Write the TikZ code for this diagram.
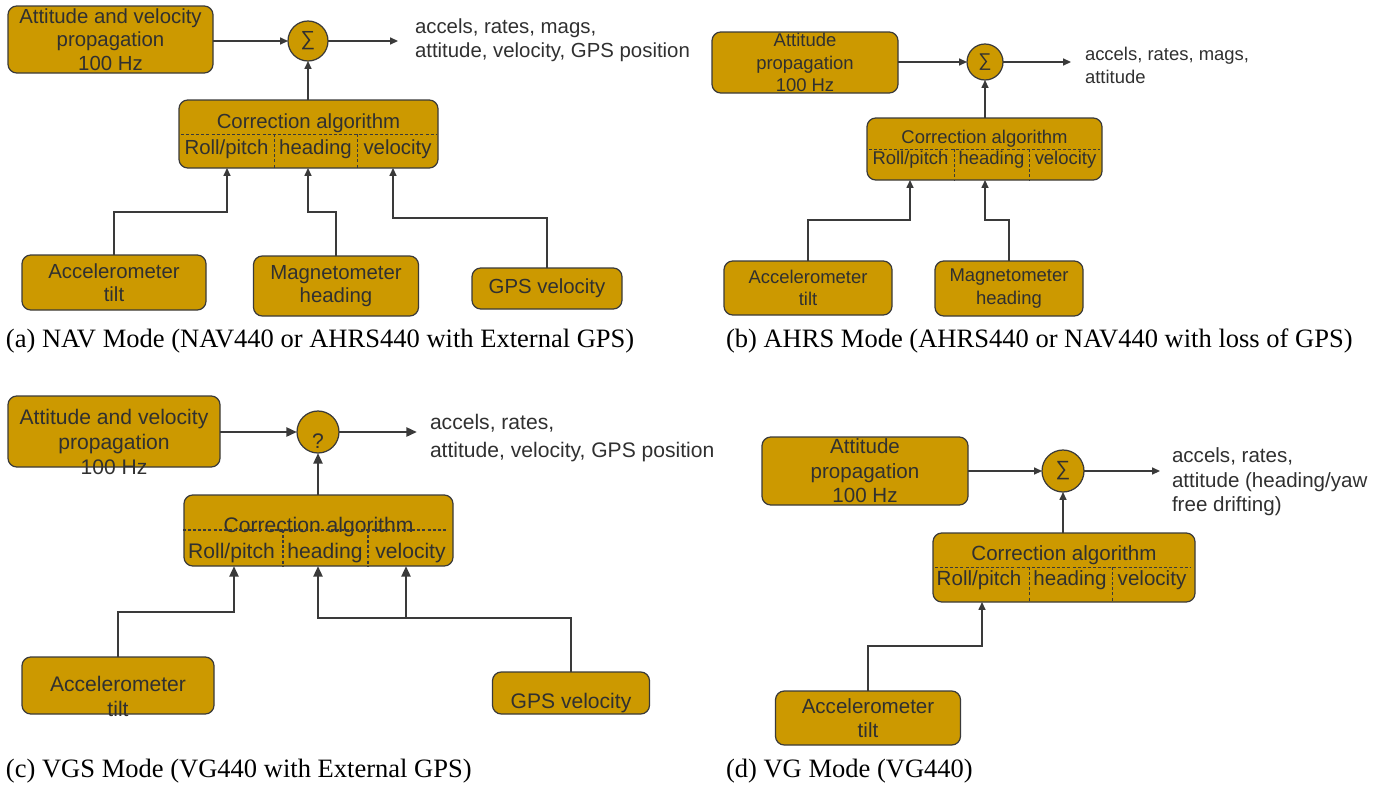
\documentclass[tikz,border=0pt]{standalone}
\usepackage{fontspec}
\setmainfont{Liberation Serif}
\setsansfont{Liberation Sans}
\usetikzlibrary{arrows.meta,positioning}
\definecolor{gold}{HTML}{CC9900}
\definecolor{edge}{HTML}{3A3A3A}
\definecolor{ink}{HTML}{303030}
\def\px{0.02cm}
\newcommand\fnA{\sffamily\fontsize{11.6}{13.4}\selectfont}
\newcommand\fnB{\sffamily\fontsize{10.5}{12.8}\selectfont}
\newcommand\fnC{\sffamily\fontsize{12}{14.2}\selectfont}
\newcommand\fnCo{\sffamily\fontsize{12}{16}\selectfont}
\newcommand\fnD{\sffamily\fontsize{11.7}{14}\selectfont}
\newcommand\fnCap{\rmfamily\fontsize{15.1}{18}\selectfont}
\tikzset{
  every node/.style = {inner sep=0, outer sep=0, text=ink},
  box/.style = {rectangle, rounded corners=5pt, draw=edge, fill=gold, line width=0.7pt, align=center},
  sum/.style = {circle, draw=edge, fill=gold, line width=0.7pt},
  arrow/.style = {-{Triangle[length=4.5pt, width=4pt]}, draw=edge, line width=0.75pt},
  heavy/.style = {-{Triangle[length=6pt, width=5pt]}, draw=edge, line width=1.5pt},
  divider/.style = {draw=edge, line width=0.5pt, dash pattern=on 1.7pt off 1.2pt},
  outtext/.style = {anchor=west, align=left},
  caption/.style = {anchor=west, font=\fnCap, text=black}
}
\begin{document}
\begin{tikzpicture}[x=0.02cm, y=-0.02cm]
  \useasboundingbox (0,0) rectangle (1385,788);

  % (a) NAV mode
  \node[box, font=\fnA, minimum width=205*\px, minimum height=67*\px] (attA) at (110.5,39.5) {Attitude and velocity\\propagation\\100 Hz};
  \node[sum, font=\fnA, minimum size=40*\px] (sumA) at (308,41) {∑};
  \node[outtext, font=\fnA] (outA) at (415,40) {accels, rates, mags,\\attitude, velocity, GPS position};
  \coordinate (endA) at (398,41);
  \node[box, minimum width=259*\px, minimum height=68*\px] (corrA) at (308.5,134) {};
  \node[font=\fnA] (corrAt) at (308.5,123) {Correction algorithm};
  \node[font=\fnA] (rpAt) at (226.5,149) {Roll/pitch};
  \node[font=\fnA] (hdAt) at (315.5,149) {heading};
  \node[font=\fnA] (veAt) at (397.5,149) {velocity};
  \draw[divider] (181,134) -- (436,134);
  \foreach \x in {274,357} \draw[divider] (\x,134) -- (\x,168);
  \node[box, font=\fnA, minimum width=184*\px, minimum height=55*\px] (accA) at (114,282.5) {Accelerometer\\tilt};
  \node[box, font=\fnA, minimum width=165*\px, minimum height=60*\px] (magA) at (336,286) {Magnetometer\\heading};
  \node[box, font=\fnA, minimum width=150*\px, minimum height=41*\px] (gpsA) at (547,288.5) {GPS velocity};
  \coordinate (rpA) at (227,168);
  \coordinate (hdA) at (308,168);
  \coordinate (veA) at (393,168);
  \draw[arrow] (attA.east |- sumA) -- (sumA);
  \draw[arrow] (sumA) -- (endA);
  \draw[arrow] (corrA.north -| sumA) -- (sumA);
  \draw[arrow] (accA.north) -- ++(0,-43) -| (rpA);
  \draw[arrow] (magA.north) -- ++(0,-44) -| (hdA);
  \draw[arrow] (gpsA.north) -- ++(0,-50) -| (veA);
  \node[caption] (capA) at (6,341) {(a) NAV Mode (NAV440 or AHRS440 with External GPS)};

  % (b) AHRS mode
  \node[box, font=\fnB, minimum width=186*\px, minimum height=61*\px] (attB) at (805,62.5) {Attitude\\propagation\\100 Hz};
  \node[sum, font=\fnB, minimum size=36*\px] (sumB) at (985,62) {∑};
  \node[outtext, font=\fnB] (outB) at (1085,65.5) {accels, rates, mags,\\attitude};
  \coordinate (endB) at (1071,62);
  \node[box, minimum width=235*\px, minimum height=62*\px] (corrB) at (984.5,149) {};
  \node[font=\fnB] (corrBt) at (984.5,139) {Correction algorithm};
  \node[font=\fnB] (rpBt) at (910.5,160) {Roll/pitch};
  \node[font=\fnB] (hdBt) at (991.5,160) {heading};
  \node[font=\fnB] (veBt) at (1065.5,160) {velocity};
  \draw[divider] (869,149) -- (1100,149);
  \foreach \x in {954,1029} \draw[divider] (\x,149) -- (\x,180);
  \node[box, font=\fnB, minimum width=168*\px, minimum height=54*\px] (accB) at (808,288) {Accelerometer\\tilt};
  \node[box, font=\fnB, minimum width=148*\px, minimum height=55*\px] (magB) at (1009,288.5) {Magnetometer\\heading};
  \coordinate (rpB) at (910,180);
  \coordinate (hdB) at (985,180);
  \draw[arrow] (attB.east |- sumB) -- (sumB);
  \draw[arrow] (sumB) -- (endB);
  \draw[arrow] (corrB.north -| sumB) -- (sumB);
  \draw[arrow] (accB.north) -- ++(0,-41) -| (rpB);
  \draw[arrow] (magB.north) -- ++(0,-41) -| (hdB);
  \node[caption] (capB) at (726,341) {(b) AHRS Mode (AHRS440 or NAV440 with loss of GPS)};

  % (c) VGS mode
  \node[box, minimum width=212*\px, minimum height=71*\px] (attC) at (114,431.5) {};
  \node[font=\fnC, align=center] (attCt) at (114,442) {Attitude and velocity\\propagation\\100 Hz};
  \node[sum, minimum size=42*\px] (sumC) at (318,432) {};
  \node[font=\fnC] (qC) at (318,441) {?};
  \node[outtext, font=\fnCo] (outC) at (430,438) {accels, rates,\\attitude, velocity, GPS position};
  \coordinate (endC) at (417,432);
  \node[box, minimum width=269*\px, minimum height=71*\px] (corrC) at (318.5,530.5) {};
  \node[font=\fnC] (corrCt) at (318.5,527) {Correction algorithm};
  \node[font=\fnC] (rpCt) at (231.5,553) {Roll/pitch};
  \node[font=\fnC] (hdCt) at (325,553) {heading};
  \node[font=\fnC] (veCt) at (410.5,553) {velocity};
  \draw[divider, line width=0.8pt] (183,530) -- (447,530);
  \foreach \x in {283,368} \draw[divider, line width=0.8pt] (\x,530) -- (\x,566);
  \node[box, minimum width=192*\px, minimum height=57*\px] (accC) at (118,685.5) {};
  \node[font=\fnC, align=center] (accCt) at (118,696.5) {Accelerometer\\tilt};
  \node[box, minimum width=157*\px, minimum height=42*\px] (gpsC) at (571,693) {};
  \node[font=\fnC] (gpsCt) at (571,703) {GPS velocity};
  \coordinate (rpC) at (234,566);
  \coordinate (hdC) at (318,566);
  \coordinate (veC) at (406,566);
  \coordinate (jC) at (406,618);
  \draw[heavy] (attC.east |- sumC) -- (sumC);
  \draw[heavy] (sumC) -- (endC);
  \draw[heavy] (corrC.north -| sumC) -- (sumC);
  \draw[heavy] (accC.north) -- ++(0,-45) -| (rpC);
  \draw[heavy] (gpsC.north) |- (jC) -| (hdC);
  \draw[heavy] (jC) -- (veC);
  \node[caption] (capC) at (6,771) {(c) VGS Mode (VG440 with External GPS)};

  % (d) VG mode
  \node[box, font=\fnD, minimum width=206*\px, minimum height=68*\px] (attD) at (865,471) {Attitude\\propagation\\100 Hz};
  \node[sum, font=\fnD, minimum size=42*\px] (sumD) at (1063,471) {∑};
  \node[outtext, font=\fnD] (outD) at (1172,482) {accels, rates,\\attitude (heading/yaw\\free drifting)};
  \coordinate (endD) at (1160,471);
  \node[box, minimum width=262*\px, minimum height=69*\px] (corrD) at (1064,567.5) {};
  \node[font=\fnD] (corrDt) at (1064,555) {Correction algorithm};
  \node[font=\fnD] (rpDt) at (979,580) {Roll/pitch};
  \node[font=\fnD] (hdDt) at (1070,580) {heading};
  \node[font=\fnD] (veDt) at (1152,580) {velocity};
  \draw[divider] (935,567) -- (1190,567);
  \foreach \x in {1029,1112} \draw[divider] (\x,567) -- (\x,602);
  \node[box, font=\fnD, minimum width=185*\px, minimum height=54*\px] (accD) at (868,718) {Accelerometer\\tilt};
  \coordinate (rpD) at (982,602);
  \draw[arrow] (attD.east |- sumD) -- (sumD);
  \draw[arrow] (sumD) -- (endD);
  \draw[arrow] (corrD.north -| sumD) -- (sumD);
  \draw[arrow] (accD.north) -- ++(0,-45) -| (rpD);
  \node[caption] (capD) at (726,771) {(d) VG Mode (VG440)};
\end{tikzpicture}
\end{document}
